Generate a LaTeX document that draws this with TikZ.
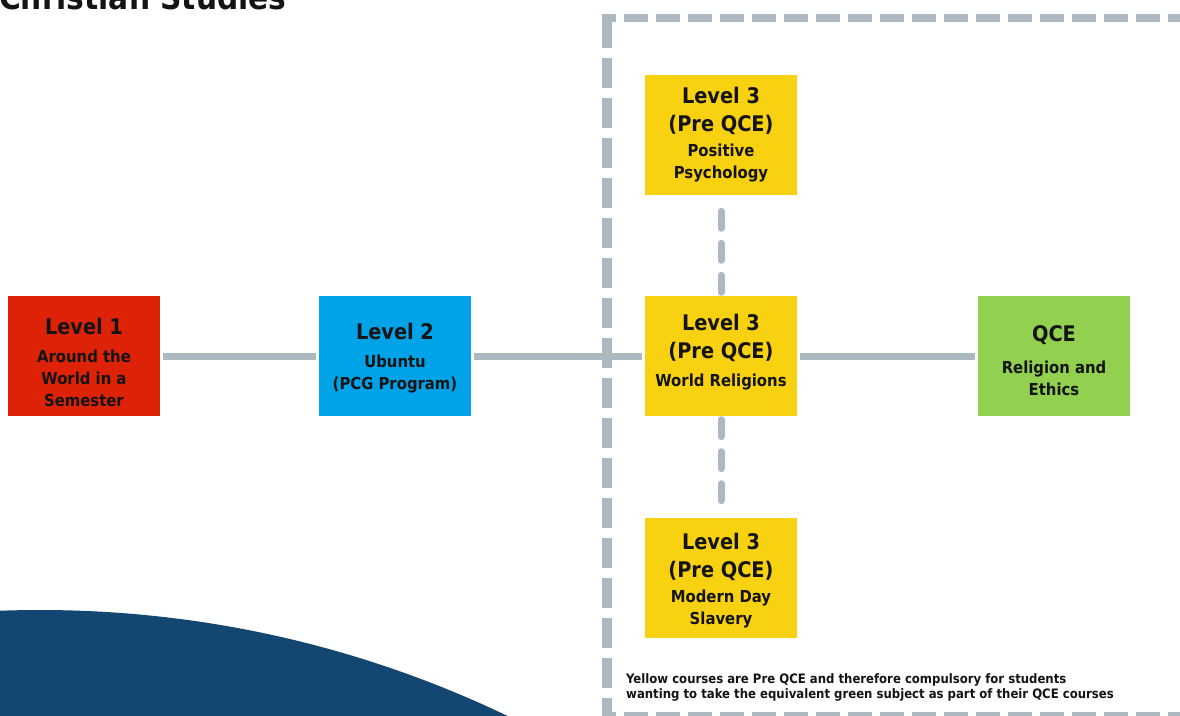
\documentclass[tikz,border=0pt]{standalone}
\usepackage{fontspec}
\setmainfont{DejaVu Sans Condensed}
\usepackage{tikz}
\usetikzlibrary{calc}

\definecolor{lvlred}{HTML}{DE2207}
\definecolor{lvlblue}{HTML}{00A3E8}
\definecolor{lvlyellow}{HTML}{F8D210}
\definecolor{lvlgreen}{HTML}{92D050}
\definecolor{linkgray}{HTML}{ADB9C1}
\definecolor{arcblue}{HTML}{144672}

\tikzset{
  course/.style={minimum width=152pt, minimum height=120pt, inner sep=0pt},
  coursetext/.style={inner sep=0pt, align=center, text=black!92,
    font=\fontsize{16.5}{22}\selectfont\bfseries},
  link/.style={draw=linkgray, line width=7pt, shorten <=3pt, shorten >=3pt},
  dashlink/.style={draw=linkgray, line width=7pt, line cap=round,
    dash pattern=on 17pt off 15pt, shorten <=3.5pt, shorten >=13pt},
}
\newcommand{\lvltitle}[1]{{\fontsize{21.5}{21.5}\selectfont #1}}

\begin{document}
\begin{tikzpicture}[x=1pt,y=-1pt]
    \useasboundingbox (0,0) rectangle (1180,715);
    \clip (0,0) rectangle (1180,715);

    % draw blue arc in the corner
    \fill[arcblue] (40,1692) circle (1082);

    % draw title
    \node[anchor=base west, font=\fontsize{33}{33}\selectfont\bfseries, text=black!92, inner sep=0pt]
      (title) at (-1,9) {Christian Studies};

    % draw dashed frame
    \draw[linkgray, line width=10pt, dash pattern=on 30pt off 10pt] (607,18) -- (607,730);
    \draw[linkgray, line width=8pt, dash pattern=on 24pt off 8pt, dash phase=10pt] (602,18) -- (1200,18);
    \draw[linkgray, line width=8pt, dash pattern=on 24pt off 8pt, dash phase=10pt] (602,716) -- (1200,716);

    % draw course boxes
    \node[course, fill=lvlred] (lvlone) at (84,356) {};
    \node[course, fill=lvlblue] (lvltwo) at (395,356) {};
    \node[course, fill=lvlyellow] (religions) at (721,356) {};
    \node[course, fill=lvlyellow] (psychology) at (721,135) {};
    \node[course, fill=lvlyellow] (slavery) at (721,578) {};
    \node[course, fill=lvlgreen] (qce) at (1054,356) {};

    % draw course texts
    \node[coursetext] (lvlonetext) at ($(lvlone)+(0,6.5)$)
      {\lvltitle{Level 1}\\[6pt] Around the\\World in a\\Semester};
    \node[coursetext] (lvltwotext) at ($(lvltwo)+(0,2)$)
      {\lvltitle{Level 2}\\[6pt] Ubuntu\\(PCG Program)};
    \node[coursetext] (religionstext) at ($(religions)+(0,-3.5)$)
      {\lvltitle{Level 3}\\[6pt]\lvltitle{(Pre QCE)}\\[6pt] World Religions};
    \node[coursetext] (psychologytext) at (psychology)
      {\lvltitle{Level 3}\\[6pt]\lvltitle{(Pre QCE)}\\[3pt] Positive\\Psychology};
    \node[coursetext] (slaverytext) at ($(slavery)+(0,2.5)$)
      {\lvltitle{Level 3}\\[6pt]\lvltitle{(Pre QCE)}\\[3pt] Modern Day\\Slavery};
    \node[coursetext] (qcetext) at ($(qce)+(0,5)$)
      {\lvltitle{QCE}\\[10pt] Religion and\\Ethics};

    % draw connectors
    \draw[link] (lvlone) -- (lvltwo);
    \draw[link] (lvltwo) -- (religions);
    \draw[link] (religions) -- (qce);
    \draw[dashlink] (religions.north) -- (psychology.south);
    \draw[dashlink] (religions.south) -- (slavery.north);

    % draw note
    \node[anchor=base west, align=left, inner sep=0pt, text=black!92,
      font=\fontsize{13}{15}\selectfont\bfseries] (note) at (626,698)
      {Yellow courses are Pre QCE and therefore compulsory for students\\
       wanting to take the equivalent green subject as part of their QCE courses};
\end{tikzpicture}
\end{document}
